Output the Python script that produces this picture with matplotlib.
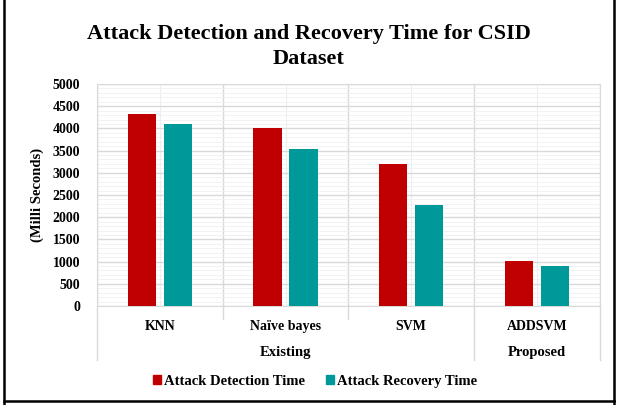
import numpy as np
import matplotlib.pyplot as plt
from matplotlib.lines import Line2D
from matplotlib.patches import Patch

# datos
metodos = ['KNN', 'Naïve bayes', 'SVM', 'ADDSVM']
grupos = ['Existing', 'Existing', 'Existing', 'Proposed']
deteccion = [4330, 4020, 3200, 1020]
recuperacion = [4110, 3540, 2270, 910]
series = ['Attack Detection Time', 'Attack Recovery Time']

rojo = '#C00000'
verde = '#009999'
fuente = 'Liberation Serif'

fig = plt.figure(figsize=(6.3, 4.05), dpi=100)
ax = fig.add_axes([0.154, 0.2444, 0.798, 0.5482])

x = np.arange(len(metodos))
ancho = 0.225
ax.bar(x - 0.143, deteccion, ancho, color=rojo, zorder=3)
ax.bar(x + 0.143, recuperacion, ancho, color=verde, zorder=3)

ax.set_xlim(-0.5, len(metodos) - 0.5)
ax.set_ylim(0, 5000)
ax.set_yticks(np.arange(0, 5001, 500))
ax.set_yticks(np.arange(0, 5001, 100), minor=True)

# rejilla
ax.grid(axis='y', which='major', color='#d9d9d9', lw=1.0, zorder=0)
ax.grid(axis='y', which='minor', color='#f0f0f0', lw=0.6, zorder=0)
for b in np.arange(-0.5, len(metodos), 1.0):
    ax.axvline(b, color='#d9d9d9', lw=1.0, zorder=1)
for c in x:
    ax.axvline(c, color='#eeeeee', lw=0.8, zorder=1)

for s in ax.spines.values():
    s.set_color('#d9d9d9')

ax.set_xticks(x)
ax.set_xticklabels(metodos)
ax.tick_params(axis='both', which='both', length=0)
for t in ax.get_xticklabels() + ax.get_yticklabels():
    t.set_fontfamily(fuente)
    t.set_fontweight('bold')
    t.set_fontsize(10)
ax.tick_params(axis='x', pad=10)
ax.tick_params(axis='y', pad=12)

ax.set_ylabel('(Milli Seconds)', fontfamily=fuente, fontweight='bold',
              fontsize=10.5, labelpad=6)

# etiquetas de grupo y separadores
trans = ax.get_xaxis_transform()
ax.text(1, -0.21, 'Existing', transform=trans, ha='center', va='center',
        fontfamily=fuente, fontweight='bold', fontsize=10.5)
ax.text(3, -0.21, 'Proposed', transform=trans, ha='center', va='center',
        fontfamily=fuente, fontweight='bold', fontsize=10.5)
for b in [-0.5, 2.5, 3.5]:
    ax.add_line(Line2D([b, b], [0, -0.245], transform=trans, color='#d9d9d9',
                       lw=1.0, clip_on=False))
for b in [0.5, 1.5]:
    ax.add_line(Line2D([b, b], [0, -0.06], transform=trans, color='#d9d9d9',
                       lw=1.0, clip_on=False))

fig.suptitle('Attack Detection and Recovery Time for CSID\nDataset',
             x=0.49, y=0.94, fontfamily=fuente, fontweight='bold',
             fontsize=16, linespacing=1.3)

handles = [Patch(color=rojo), Patch(color=verde)]
fig.legend(handles, series, loc='center', bbox_to_anchor=(0.5, 0.058),
           ncol=2, frameon=False, handlelength=0.6, handleheight=0.6,
           handletextpad=0.2, columnspacing=1.4,
           prop={'family': fuente, 'weight': 'bold', 'size': 10.5})

# marco exterior
for xs, ys in [([0.007, 0.007], [0.0, 1.0]), ([0.975, 0.975], [0.0, 1.0]),
               ([0.007, 0.975], [0.01, 0.01])]:
    fig.add_artist(Line2D(xs, ys, transform=fig.transFigure, color='black', lw=1.8))

fig.savefig('out.png', dpi=100)
